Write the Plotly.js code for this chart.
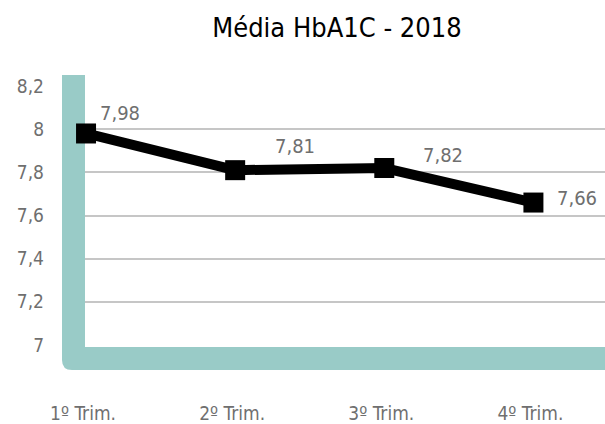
<!DOCTYPE html>
<html>
<head>
<meta charset="utf-8">
<script src="https://cdn.plot.ly/plotly-3.0.1.min.js"></script>
<style>html,body{margin:0;padding:0;background:#fff;}#chart{width:605px;height:424px;}</style>
</head>
<body>
<div id="chart"></div>
<script>
const categories = ["1º Trim.", "2º Trim.", "3º Trim.", "4º Trim."];
const values = [7.98, 7.81, 7.82, 7.66];
const valueLabels = ["7,98", "7,81", "7,82", "7,66"];
const yTickVals = [7, 7.2, 7.4, 7.6, 7.8, 8, 8.2];
const yTickText = ["7", "7,2", "7,4", "7,6", "7,8", "8", "8,2"];
const yGridVals = [7.2, 7.4, 7.6, 7.8, 8, 8.2];

const FONT = '"DejaVu Sans Condensed", "DejaVu Sans", sans-serif';
const GREY = '#6f6f6f';
const TEAL = '#99cbc7';

// label offsets (px) relative to each point
const labelShift = [[34, 20], [60, 24], [59, 13], [44, 5]];

const trace = {
  x: categories,
  y: values,
  type: 'scatter',
  mode: 'lines+markers',
  line: {color: '#000', width: 10},
  marker: {symbol: 'square', size: 20, color: '#000'},
  cliponaxis: false,
  hoverinfo: 'none'
};

const annotations = categories.map((c, i) => ({
  x: c, y: values[i], xref: 'x', yref: 'y',
  text: valueLabels[i], showarrow: false,
  xshift: labelShift[i][0], yshift: labelShift[i][1],
  font: {family: FONT, size: 20, color: GREY}
}));

const M = {l: 85, r: 0, t: 86, b: 79};
const W = 605, H = 424;
const pw = W - M.l - M.r, ph = H - M.t - M.b;
function dx(px) { return ((px - M.l) / pw).toFixed(5); }
function dy(py) { return ((H - M.b - py) / ph).toFixed(5); }

const framePath =
  'M' + dx(62) + ',' + dy(75) +
  ' L' + dx(85) + ',' + dy(75) +
  ' L' + dx(85) + ',' + dy(347) +
  ' L' + dx(606) + ',' + dy(347) +
  ' L' + dx(606) + ',' + dy(370) +
  ' L' + dx(72) + ',' + dy(370) +
  ' Q' + dx(62) + ',' + dy(370) + ' ' + dx(62) + ',' + dy(360) + ' Z';

const layout = {
  width: W, height: H,
  margin: M,
  paper_bgcolor: '#fff', plot_bgcolor: 'rgba(0,0,0,0)',
  showlegend: false,
  title: {text: 'Média HbA1C - 2018', x: 0.557, xanchor: 'center', y: 0.935, yanchor: 'middle',
          font: {family: FONT, size: 27, color: '#000'}},
  xaxis: {
    type: 'category', range: [-0.007, 3.48],
    showgrid: false, zeroline: false, showline: false, ticks: '',
    tickfont: {family: FONT, size: 19, color: GREY},
    ticklabelstandoff: 55, ticklabelshift: -3
  },
  yaxis: {
    range: [7, 8.2], tickmode: 'array', tickvals: yTickVals, ticktext: yTickText,
    showgrid: false, zeroline: false, showline: false, ticks: '',
    tickfont: {family: FONT, size: 19, color: GREY},
    ticklabelstandoff: 40,
    minor: {tickmode: 'array', tickvals: yGridVals, showgrid: true,
            gridcolor: '#c6c6c6', gridwidth: 2, ticks: ''}
  },
  shapes: [
    {type: 'path', xref: 'paper', yref: 'paper', layer: 'below',
     path: framePath, fillcolor: TEAL, line: {width: 0}}
  ],
  annotations: annotations
};

Plotly.newPlot('chart', [trace], layout, {displayModeBar: false, staticPlot: true});
</script>
</body>
</html>
